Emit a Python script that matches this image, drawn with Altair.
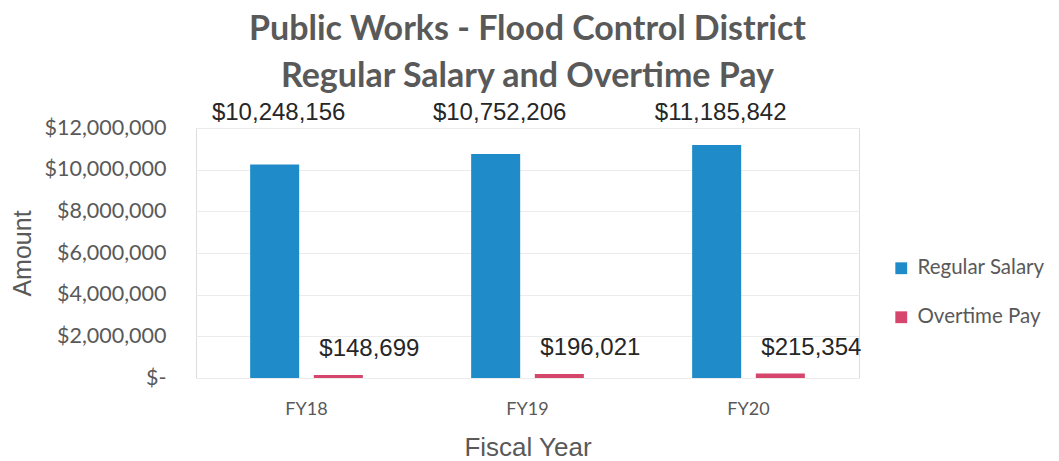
import altair as alt
import pandas as pd

years = ["FY18", "FY19", "FY20"]
series = ["Regular Salary", "Overtime Pay"]
regular = [10248156, 10752206, 11185842]
overtime = [148699, 196021, 215354]
colors = ["#1f8bc9", "#d6456c"]

rows = []
for y, r, o in zip(years, regular, overtime):
    rows.append({"year": y, "series": series[0], "value": r})
    rows.append({"year": y, "series": series[1], "value": o})
df = pd.DataFrame(rows)
df["label"] = df["value"].map(lambda v: "${:,}".format(v))

x = alt.X("year:N", sort=years,
          scale=alt.Scale(paddingInner=0.49, paddingOuter=0.245),
          axis=alt.Axis(title="Fiscal Year", labelAngle=0, labelFont="Lato", labelFontSize=18,
                        labelColor="#595959", labelPadding=22, ticks=False, domain=False,
                        titleFont="Liberation Sans", titleFontSize=26, titleFontWeight="normal",
                        titleColor="#595959", titleY=69, titleBaseline="middle"))
xo = alt.XOffset("series:N", sort=series, scale=alt.Scale(paddingInner=0.23, paddingOuter=0))

base = alt.Chart(df)

bars = base.mark_bar().encode(
    x=x, xOffset=xo,
    y=alt.Y("value:Q", scale=alt.Scale(domain=[0, 12000000]),
            axis=alt.Axis(title="Amount", values=[0, 2000000, 4000000, 6000000, 8000000, 10000000, 12000000],
                          labelExpr="datum.value == 0 ? '$-' : format(datum.value, '$,')",
                          labelFont="Lato", labelFontSize=21.5, labelColor="#595959",
                          labelPadding=30, ticks=False, domain=False,
                          gridColor="#ececec", gridWidth=1,
                          titleFont="Liberation Sans", titleFontSize=25, titleFontWeight="normal",
                          titleColor="#595959", titleX=-174, titleY=125, titleBaseline="middle")),
    color=alt.Color("series:N", sort=series,
                    scale=alt.Scale(domain=series, range=colors),
                    legend=alt.Legend(title=None, orient="none", legendX=695, legendY=130,
                                      symbolType="square", symbolSize=140, symbolStrokeWidth=0,
                                      labelFont="Lato", labelFontSize=20.5, labelColor="#595959",
                                      rowPadding=28, labelOffset=6)),
)

reg_labels = base.transform_filter(alt.datum.series == "Regular Salary").mark_text(
    font="Liberation Sans", fontSize=24, color="#262626", baseline="middle", dx=4
).encode(x=x, xOffset=xo, y=alt.value(-15), text="label:N")

ot_labels = base.transform_filter(alt.datum.series == "Overtime Pay").mark_text(
    font="Liberation Sans", fontSize=24, color="#262626", baseline="middle", dx=31, dy=-26
).encode(x=x, xOffset=xo, y="value:Q", text="label:N")

chart = alt.layer(bars, reg_labels, ot_labels).properties(
    width=663, height=250,
    title=alt.TitleParams(text="Public Works - Flood Control District",
                          subtitle="Regular Salary and Overtime Pay",
                          font="Lato", fontSize=34, fontWeight="bold", color="#595959",
                          subtitleFont="Lato", subtitleFontSize=34, subtitleFontWeight="bold",
                          subtitleColor="#595959", subtitlePadding=13,
                          anchor="middle", offset=7),
    autosize=alt.AutoSizeParams(type="none"),
    padding={"left": 188, "top": 120, "right": 192, "bottom": 83},
).configure_view(stroke=None).configure(background="white")

chart.save("out.html", embed_options={"renderer": "svg", "actions": False})
